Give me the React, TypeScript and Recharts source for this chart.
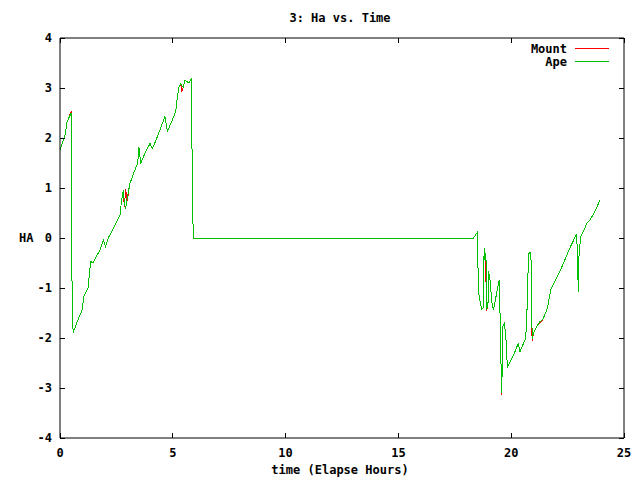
import { LineChart, Line, XAxis, YAxis, Legend } from "recharts";

const TIME = [
  0.0, 0.1, 0.18, 0.24, 0.3, 0.39, 0.49, 0.52, 0.53, 0.58, 0.7, 0.85, 0.98, 1.06, 1.15, 1.24,
  1.31, 1.36, 1.46, 1.6, 1.77, 1.92, 2.02, 2.14, 2.4, 2.66, 2.73, 2.81, 2.85, 2.91, 2.98,
  3.1, 3.25, 3.44, 3.5, 3.58, 3.75, 3.99, 4.09, 4.25, 4.43, 4.65, 4.76, 4.95, 5.13, 5.22,
  5.27, 5.35, 5.4, 5.46, 5.54, 5.65, 5.73, 5.81, 5.84, 5.87, 5.91,
  18.32, 18.5, 18.54, 18.58, 18.62, 18.69, 18.76, 18.8, 18.84, 18.88, 18.91, 18.97, 18.99,
  19.06, 19.14, 19.21, 19.47, 19.5, 19.55, 19.56, 19.59, 19.61, 19.62, 19.69, 19.76, 19.8,
  19.84, 20.1, 20.31, 20.39, 20.64, 20.69, 20.74, 20.78, 20.85, 20.88, 20.91, 20.94, 20.98,
  21.13, 21.28, 21.4, 21.6, 21.75, 22.16, 22.6, 22.9, 22.95, 22.97, 23.0, 23.08, 23.2,
  23.35, 23.49, 23.71, 23.94,
];

const APE = [
  1.76, 1.9, 2.0, 2.09, 2.3, 2.4, 2.49, 1.39, -0.81, -1.9, -1.75, -1.58, -1.44, -1.17, -1.08, -1.0,
  -0.7, -0.47, -0.5, -0.38, -0.24, -0.04, -0.17, 0.0, 0.22, 0.46, 0.76, 0.95, 0.69, 0.59, 0.8,
  1.09, 1.28, 1.49, 1.81, 1.49, 1.68, 1.89, 1.79, 1.95, 2.16, 2.43, 2.13, 2.33, 2.53, 2.88,
  3.01, 3.09, 3.05, 3.01, 3.15, 3.12, 3.11, 3.19, 2.39, 0.79, 0.0,
  0.0, 0.11, -0.87, -1.2, -1.27, -1.43, -1.39, -0.21, -0.45, -0.3, -1.41, -1.37, -0.67,
  -0.83, -1.27, -1.44, -0.84, -1.41, -2.57, -3.1, -2.6, -2.77, -1.77, -1.71, -1.94, -2.37,
  -2.57, -2.35, -2.11, -2.27, -2.01, -1.61, -0.77, -0.31, -0.29, -0.44, -1.64, -2.01, -1.91,
  -1.77, -1.67, -1.63, -1.41, -1.04, -0.67, -0.2, 0.08, -0.47, -1.07, -0.4, 0.03, 0.13,
  0.29, 0.36, 0.53, 0.76,
];

const MOUNT = [
  1.76, 1.9, 2.0, 2.09, 2.3, 2.4, 2.53, 1.39, -0.81, -1.9, -1.75, -1.58, -1.44, -1.17, -1.08, -1.0,
  -0.7, -0.47, -0.5, -0.38, -0.24, -0.04, -0.17, 0.0, 0.22, 0.46, 0.76, 0.95, 0.62, 0.97, 0.75,
  1.09, 1.28, 1.49, 1.81, 1.49, 1.68, 1.89, 1.79, 1.95, 2.16, 2.43, 2.13, 2.33, 2.53, 2.88,
  3.01, 3.09, 2.93, 3.01, 3.15, 3.12, 3.11, 3.19, 2.39, 0.79, 0.0,
  0.0, 0.11, -0.87, -1.2, -1.27, -1.43, -1.39, -0.21, -0.45, -0.8, -1.45, -1.37, -0.67,
  -0.83, -1.27, -1.44, -0.84, -1.41, -2.57, -3.14, -2.6, -2.77, -1.77, -1.71, -1.94, -2.37,
  -2.57, -2.35, -2.11, -2.27, -2.01, -1.61, -0.77, -0.31, -0.29, -0.44, -1.9, -2.05, -1.91,
  -1.77, -1.7, -1.63, -1.41, -1.04, -0.67, -0.2, 0.08, -0.47, -1.07, -0.4, 0.03, 0.13,
  0.29, 0.36, 0.53, 0.76,
];

const SERIES = [
  { key: "mount", name: "Mount", color: "#ff0000" },
  { key: "ape", name: "Ape", color: "#00c000" },
];

const X_TICKS = [0, 5, 10, 15, 20, 25];
const Y_TICKS = [-4, -3, -2, -1, 0, 1, 2, 3, 4];

const data = TIME.map((t, i) => ({ t, mount: MOUNT[i], ape: APE[i] }));

const FONT = "'DejaVu Sans Mono', monospace";
const TICK_LEN = 5;

function BottomTick(props: any) {
  const { x, y, payload } = props;
  return (
    <g>
      <line x1={x} x2={x} y1={y} y2={y - TICK_LEN} stroke="#000" shapeRendering="crispEdges" />
      <text x={x} y={y + 19} textAnchor="middle" fontFamily={FONT} fontWeight="bold" fontSize={12} fill="#000">
        {payload.value}
      </text>
    </g>
  );
}

function TopTick(props: any) {
  const { x, y } = props;
  return <line x1={x} x2={x} y1={y} y2={y + TICK_LEN} stroke="#000" shapeRendering="crispEdges" />;
}

function LeftTick(props: any) {
  const { x, y, payload } = props;
  return (
    <g>
      <line x1={x} x2={x + TICK_LEN} y1={y} y2={y} stroke="#000" shapeRendering="crispEdges" />
      <text x={x - 8} y={y + 4} textAnchor="end" fontFamily={FONT} fontWeight="bold" fontSize={12} fill="#000">
        {payload.value}
      </text>
    </g>
  );
}

function RightTick(props: any) {
  const { x, y } = props;
  return <line x1={x} x2={x - TICK_LEN} y1={y} y2={y} stroke="#000" shapeRendering="crispEdges" />;
}

function renderLegend() {
  return (
    <svg width={120} height={30} style={{ display: "block" }}>
      {SERIES.map((s, i) => (
        <g key={s.key}>
          <text x={67} y={13 + i * 13} textAnchor="end" fontFamily={FONT} fontWeight="bold" fontSize={12} fill="#000">
            {s.name}
          </text>
          <line x1={75} x2={109} y1={8.5 + i * 13} y2={8.5 + i * 13} stroke={s.color} shapeRendering="crispEdges" />
        </g>
      ))}
    </svg>
  );
}

export default function App() {
  const labelStyle = {
    position: "absolute" as const, fontFamily: FONT, fontWeight: "bold" as const, fontSize: 12, color: "#000",
  };
  return (
    <div style={{ position: "absolute", left: 0, top: 0, width: 640, height: 480, background: "#fff" }}>
      <div style={{ ...labelStyle, left: 0, width: 680, top: 11, textAlign: "center" }}>3: Ha vs. Time</div>
      <div style={{ ...labelStyle, left: 0, width: 680, top: 463, textAlign: "center" }}>time (Elapse Hours)</div>
      <div style={{ ...labelStyle, left: 19, top: 231 }}>HA</div>
      <LineChart width={640} height={480} data={data} margin={{ top: 37, right: 15, bottom: 22, left: 59 }}>
        <XAxis
          dataKey="t" type="number" domain={[0, 25]} ticks={X_TICKS} height={20}
          tickSize={0} tickMargin={0} tick={<BottomTick />} axisLine={{ stroke: "#000" }} tickLine={false}
          allowDataOverflow
        />
        <XAxis
          xAxisId="top" orientation="top" dataKey="t" type="number" domain={[0, 25]} ticks={X_TICKS} height={1}
          tickSize={0} tickMargin={0} tick={<TopTick />} axisLine={{ stroke: "#000" }} tickLine={false}
          allowDataOverflow
        />
        <YAxis
          type="number" domain={[-4, 4]} ticks={Y_TICKS} width={1}
          tickSize={0} tickMargin={0} tick={<LeftTick />} axisLine={{ stroke: "#000" }} tickLine={false}
          allowDataOverflow
        />
        <YAxis
          yAxisId="right" orientation="right" type="number" domain={[-4, 4]} ticks={Y_TICKS} width={1}
          tickSize={0} tickMargin={0} tick={<RightTick />} axisLine={{ stroke: "#000" }} tickLine={false}
          allowDataOverflow
        />
        <Legend
          layout="horizontal" verticalAlign="middle" align="center"
          wrapperStyle={{ position: "absolute", top: 40, left: 500, width: 120 }}
          content={renderLegend}
        />
        {SERIES.map((s) => (
          <Line
            key={s.key} name={s.name} dataKey={s.key} stroke={s.color} strokeWidth={1}
            dot={false} isAnimationActive={false} type="linear" shapeRendering="crispEdges"
          />
        ))}
      </LineChart>
    </div>
  );
}
